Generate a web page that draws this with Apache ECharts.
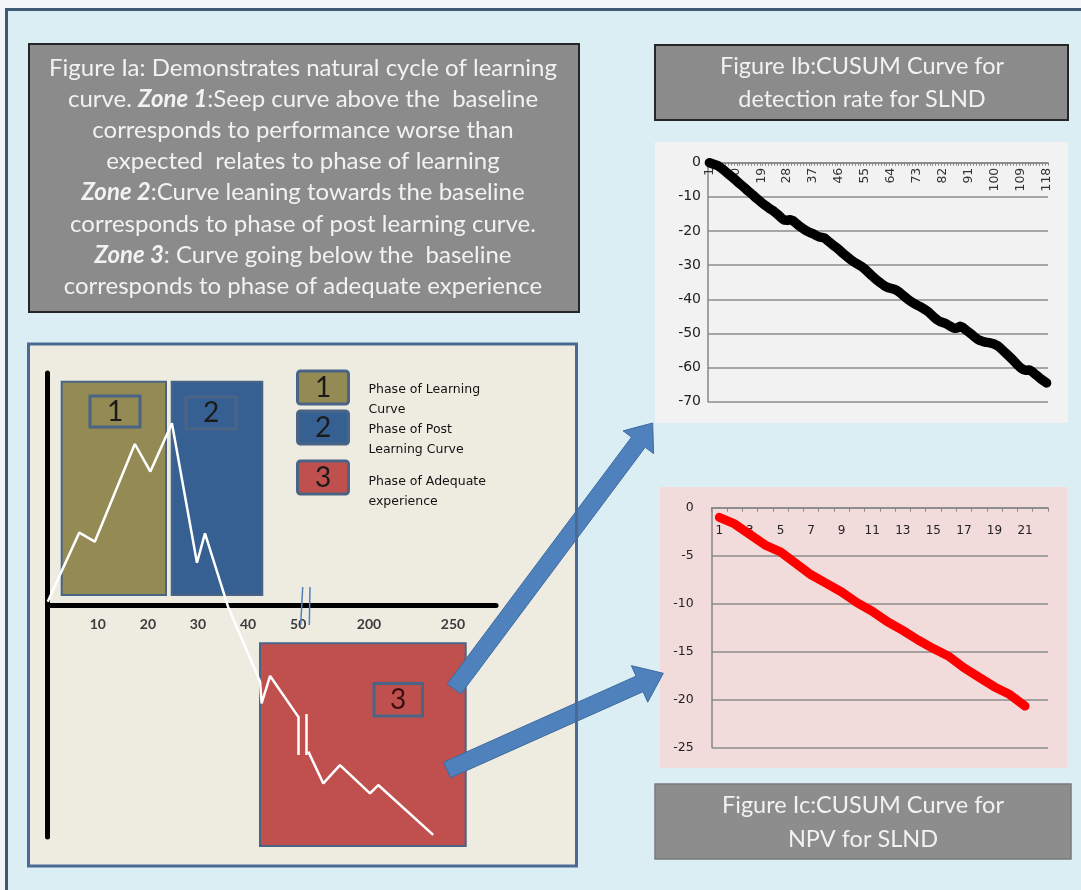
<!DOCTYPE html>
<html><head><meta charset="utf-8">
<script src="https://cdn.jsdelivr.net/npm/echarts@6/dist/echarts.min.js"></script>
<style>html,body{margin:0;padding:0;background:#f3f6f8;}#c{width:1081px;height:890px;}</style>
</head><body><div id="c"></div>
<script>
// ---- Figure Ib: CUSUM curve for detection rate (cases 1..118)
const catsB = ['1','2','3','4','5','6','7','8','9','10','11','12','13','14','15','16','17','18','19','20',
 '21','22','23','24','25','26','27','28','29','30','31','32','33','34','35','36','37','38','39','40',
 '41','42','43','44','45','46','47','48','49','50','51','52','53','54','55','56','57','58','59','60',
 '61','62','63','64','65','66','67','68','69','70','71','72','73','74','75','76','77','78','79','80',
 '81','82','83','84','85','86','87','88','89','90','91','92','93','94','95','96','97','98','99','100',
 '101','102','103','104','105','106','107','108','109','110','111','112','113','114','115','116','117','118'];
const valsB = [0,-0.3,-0.6,-0.9,-1.5,-2.2,-2.9,-3.6,-4.3,-5.0,
 -5.8,-6.5,-7.2,-8.0,-8.7,-9.4,-10.2,-10.9,-11.6,-12.3,
 -12.9,-13.5,-14.0,-14.7,-15.4,-16.2,-16.8,-16.9,-16.7,-17.0,
 -17.7,-18.4,-19.0,-19.6,-20.1,-20.5,-20.8,-21.3,-21.7,-21.9,
 -22.1,-22.8,-23.5,-24.2,-24.8,-25.5,-26.3,-27.0,-27.7,-28.4,
 -29.0,-29.5,-30.0,-30.5,-31.2,-32.0,-32.8,-33.6,-34.3,-35.0,
 -35.6,-36.2,-36.6,-36.8,-37.0,-37.4,-38.0,-38.7,-39.4,-40.1,
 -40.7,-41.2,-41.7,-42.1,-42.6,-43.1,-43.7,-44.5,-45.3,-46.0,
 -46.5,-46.8,-47.1,-47.6,-48.1,-48.5,-48.4,-47.9,-48.3,-49.0,
 -49.6,-50.3,-51.0,-51.7,-52.1,-52.4,-52.6,-52.7,-52.9,-53.2,
 -53.6,-54.3,-55.1,-55.9,-56.7,-57.5,-58.4,-59.3,-60.1,-60.6,
 -60.8,-60.7,-61.2,-61.9,-62.6,-63.3,-63.9,-64.5];
const ticksB = [0,-10,-20,-30,-40,-50,-60,-70];

// ---- Figure Ic: CUSUM curve for NPV (cases 1..21, axis to 22)
const catsC = ['1','2','3','4','5','6','7','8','9','10','11','12','13','14','15','16','17','18','19','20','21','22'];
const valsC = [-1.0,-1.7,-2.8,-3.9,-4.6,-5.8,-7.0,-7.9,-8.8,-9.9,-10.8,-11.9,-12.8,-13.8,-14.7,-15.5,-16.7,-17.7,-18.7,-19.5,-20.7];
const ticksC = [0,-5,-10,-15,-20,-25];

// ---- Figure Ia: schematic learning curve
const schemTicksA = [10,20,30,40,50];
const schemTicksB = [200,250];
const schemAx = [0,6.3,9.4,17.4,20.5,24.8,29.8,31.4,36.0,42.4,42.7,44.4,50.0];
const schemAy = [1.4,31.2,27.3,69.4,57.5,78.3,18.2,30.9,-0.7,-33.1,-42.4,-30.6,-48.1];
const schemBx = [163.9,172.8,182.7,200.6,205.5,238.2];
const schemBy = [-63.2,-76.9,-69.0,-81.2,-77.6,-99.1];

const legendItems = [
  {num:'1', lines:['Phase of Learning','Curve']},
  {num:'2', lines:['Phase of Post','Learning Curve']},
  {num:'3', lines:['Phase of Adequate','experience']}
];
const zoneColors = ['#948a54','#376092','#c0504d'];

const iaText = 'Figure Ia: Demonstrates natural cycle of learning\n' +
 'curve. {bi|Zone 1}:Seep curve above the  baseline\n' +
 'corresponds to performance worse than\n' +
 'expected  relates to phase of learning\n' +
 '{bi|Zone 2}:Curve leaning towards the baseline\n' +
 'corresponds to phase of post learning curve.\n' +
 '{bi|Zone 3}: Curve going below the  baseline\n' +
 'corresponds to phase of adequate experience';
const ibTitle = 'Figure Ib:CUSUM Curve for\ndetection rate for SLND';
const icTitle = 'Figure Ic:CUSUM Curve for\nNPV for SLND';

const chart = echarts.init(document.getElementById('c'), null, {renderer:'canvas'});

const FONT = 'Lato, "Open Sans", sans-serif';
const boxStroke = '#4a6486';

function arrow(T, P, hw, headHw, headLen){
  const dx=P[0]-T[0], dy=P[1]-T[1], L=Math.hypot(dx,dy);
  const u=[dx/L,dy/L], n=[-u[1],u[0]];
  const B=[P[0]-headLen*u[0], P[1]-headLen*u[1]];
  const pt=(o,s)=>[o[0]+s*n[0], o[1]+s*n[1]];
  return [pt(T,hw), pt(B,hw), pt(B,headHw), P, pt(B,-headHw), pt(B,-hw), pt(T,-hw)];
}

const graphics = [
  {type:'rect', z:0, shape:{x:6.5,y:9.5,width:1090,height:900}, style:{fill:'#dbeef4', stroke:'#3f5874', lineWidth:3}},
  // text boxes
  {type:'rect', z:1, shape:{x:29,y:44,width:550,height:268}, style:{fill:'#8b8b8b', stroke:'#262626', lineWidth:2}},
  {type:'text', z:3, x:303, y:177, style:{text:iaText, fill:'#f2f2f2', fontFamily:FONT, fontSize:24, lineHeight:31.2,
     align:'center', verticalAlign:'middle',
     rich:{bi:{fontStyle:'italic', fontWeight:'bold', fontFamily:FONT, fontSize:24, fill:'#f2f2f2', lineHeight:31.2}}}},
  {type:'rect', z:1, shape:{x:655,y:45,width:413,height:75}, style:{fill:'#8b8b8b', stroke:'#262626', lineWidth:2}},
  {type:'text', z:3, x:862, y:83, style:{text:ibTitle, fill:'#f2f2f2', fontFamily:FONT, fontSize:23.5, lineHeight:33, align:'center', verticalAlign:'middle'}},
  {type:'rect', z:1, shape:{x:655,y:784,width:416,height:75}, style:{fill:'#8d8d8d', stroke:'#7a7a7a', lineWidth:1.5}},
  {type:'text', z:3, x:863, y:822, style:{text:icTitle, fill:'#f2f2f2', fontFamily:FONT, fontSize:23.5, lineHeight:34, align:'center', verticalAlign:'middle'}},
  // chart backgrounds
  {type:'rect', z:1, shape:{x:655,y:142,width:413,height:281}, style:{fill:'#f2f2f2'}},
  {type:'rect', z:1, shape:{x:660,y:487,width:407,height:281}, style:{fill:'#f2dcdb'}},
  // Ia panel
  {type:'rect', z:1, shape:{x:28.5,y:344,width:548,height:522}, style:{fill:'#eeece1'}},
  // zones
  {type:'rect', z:2, shape:{x:61.7,y:381.7,width:104.3,height:213.3}, style:{fill:zoneColors[0], stroke:boxStroke, lineWidth:2}},
  {type:'rect', z:2, shape:{x:171.7,y:381.7,width:90.6,height:213.3}, style:{fill:zoneColors[1], stroke:boxStroke, lineWidth:2}},
  {type:'rect', z:2, shape:{x:260,y:643.3,width:205.7,height:202.7}, style:{fill:zoneColors[2], stroke:boxStroke, lineWidth:2}},
  // zone label boxes
  {type:'rect', z:3, shape:{x:90,y:396,width:50,height:31}, style:{fill:'none', stroke:boxStroke, lineWidth:3}},
  {type:'text', z:3, x:115, y:412, style:{text:'1', fill:'#1a1a1a', fontFamily:FONT, fontSize:28, align:'center', verticalAlign:'middle'}},
  {type:'rect', z:3, shape:{x:186,y:397,width:50,height:32}, style:{fill:'none', stroke:boxStroke, lineWidth:3}},
  {type:'text', z:3, x:211, y:413, style:{text:'2', fill:'#1a1a1a', fontFamily:FONT, fontSize:28, align:'center', verticalAlign:'middle'}},
  {type:'rect', z:3, shape:{x:374,y:683.5,width:48.5,height:32.5}, style:{fill:'none', stroke:boxStroke, lineWidth:3}},
  {type:'text', z:3, x:398, y:700, style:{text:'3', fill:'#3a1010', fontFamily:FONT, fontSize:28, align:'center', verticalAlign:'middle'}},
  // break marks
  {type:'line', z:11, shape:{x1:298.5,y1:716,x2:298.5,y2:755}, style:{stroke:'#ffffff', lineWidth:2.5}},
  {type:'line', z:11, shape:{x1:306.5,y1:714,x2:306.5,y2:755}, style:{stroke:'#ffffff', lineWidth:2.5}},
  {type:'line', z:11, shape:{x1:302.7,y1:587,x2:300.7,y2:625}, style:{stroke:'#4f81bd', lineWidth:1.5}},
  {type:'line', z:11, shape:{x1:310,y1:587,x2:309.3,y2:625}, style:{stroke:'#4f81bd', lineWidth:1.5}},
  // arrows
  {type:'polygon', z:12, shape:{points:arrow([454,689],[652.7,423],8.5,19,24)}, style:{fill:'#4f81bd', stroke:'#3d6a9e', lineWidth:1}},
  {type:'polygon', z:12, shape:{points:arrow([447,770],[663.3,673.3],8.5,20,26)}, style:{fill:'#4f81bd', stroke:'#3d6a9e', lineWidth:1}},
  // panel border
  {type:'rect', z:13, shape:{x:28.5,y:344,width:548,height:522}, style:{fill:'none', stroke:'#4a6a94', lineWidth:3}}
];
// legend
const legendY = [371,411,461];
const legendTextY = [[390,409.3],[429.3,449.3],[481.7,501.7]];
legendItems.forEach((it,i)=>{
  graphics.push({type:'rect', z:3, shape:{x:297.5,y:legendY[i],width:51,height:33,r:3}, style:{fill:zoneColors[i], stroke:boxStroke, lineWidth:3}});
  graphics.push({type:'text', z:4, x:323, y:legendY[i]+17, style:{text:it.num, fill:'#1a1a1a', fontFamily:FONT, fontSize:28, align:'center', verticalAlign:'middle'}});
  it.lines.forEach((ln,j)=>{
    graphics.push({type:'text', z:4, x:368.5, y:legendTextY[i][j], style:{text:ln, fill:'#111', fontFamily:'"DejaVu Sans", sans-serif', fontSize:12.5, align:'left', verticalAlign:'middle'}});
  });
});

const grayAxis = '#868686';
const option = {
  animation:false,
  graphic:{elements:graphics},
  grid:[
    {left:708, top:162.7, width:340, height:239},
    {left:711.7, top:507.7, width:336.3, height:239.6},
    {left:47.7, top:373, width:448.3, height:464}
  ],
  xAxis:[
    {type:'category', gridIndex:0, data:catsB, boundaryGap:true, z:5, position:'bottom', offset:-239,
     axisLine:{onZero:false, lineStyle:{color:grayAxis, width:1.5}},
     axisTick:{show:true, interval:0, length:3, lineStyle:{color:grayAxis}},
     axisLabel:{interval:8, rotate:90, fontSize:12.5, color:'#333', margin:5, fontFamily:'"DejaVu Sans", sans-serif'},
     splitLine:{show:false}},
    {type:'category', gridIndex:1, data:catsC, boundaryGap:true, z:5, position:'bottom', offset:-239.6,
     axisLine:{onZero:false, lineStyle:{color:grayAxis, width:1.5}},
     axisTick:{show:true, interval:0, length:4, lineStyle:{color:grayAxis}},
     axisLabel:{interval:1, fontSize:12, color:'#222', margin:17, fontFamily:'"DejaVu Sans", sans-serif'},
     splitLine:{show:false}},
    {type:'value', gridIndex:2, min:0, max:89.5, z:5, position:'bottom', offset:-232,
     axisLine:{onZero:false, lineStyle:{color:'#000', width:5}},
     axisTick:{show:false}, splitLine:{show:false},
     axisLabel:{customValues:schemTicksA, fontSize:14, fontWeight:'bold', color:'#3c3c3c', margin:12, fontFamily:FONT}},
    {type:'value', gridIndex:2, min:8.75, max:275.6, z:5, position:'bottom', offset:-232,
     axisLine:{show:false, onZero:false}, axisTick:{show:false}, splitLine:{show:false},
     axisLabel:{customValues:schemTicksB, fontSize:14, fontWeight:'bold', color:'#3c3c3c', margin:12, fontFamily:FONT}}
  ],
  yAxis:[
    {type:'value', gridIndex:0, min:ticksB[ticksB.length-1], max:ticksB[0], interval:10, z:5,
     axisLine:{show:true, lineStyle:{color:grayAxis, width:1.5}}, axisTick:{show:false},
     splitLine:{show:true, lineStyle:{color:'#8c8c8c', width:1.5}},
     axisLabel:{fontSize:14, color:'#222', margin:7, fontFamily:'"DejaVu Sans", sans-serif'}},
    {type:'value', gridIndex:1, min:ticksC[ticksC.length-1], max:ticksC[0], interval:5, z:5,
     axisLine:{show:true, lineStyle:{color:grayAxis, width:1.5}}, axisTick:{show:false},
     splitLine:{show:true, lineStyle:{color:'#8c8c8c', width:1.5}},
     axisLabel:{fontSize:12.5, color:'#222', margin:18, fontFamily:'"DejaVu Sans", sans-serif'}},
    {type:'value', gridIndex:2, min:-100, max:100, z:5,
     axisLine:{show:true, onZero:false, lineStyle:{color:'#000', width:5}}, axisTick:{show:false},
     splitLine:{show:false}, axisLabel:{show:false}}
  ],
  series:[
    {type:'line', xAxisIndex:0, yAxisIndex:0, data:valsB, symbol:'none', z:10,
     lineStyle:{color:'#000', width:9.5, cap:'round', join:'round'}},
    {type:'line', xAxisIndex:1, yAxisIndex:1, data:valsC, symbol:'none', z:10,
     lineStyle:{color:'#ff0000', width:9, cap:'round', join:'round'}},
    {type:'line', xAxisIndex:2, yAxisIndex:2, data:schemAx.map((x,i)=>[x,schemAy[i]]), symbol:'none', z:10,
     lineStyle:{color:'#ffffff', width:2.5}},
    {type:'line', xAxisIndex:3, yAxisIndex:2, data:schemBx.map((x,i)=>[x,schemBy[i]]), symbol:'none', z:10,
     lineStyle:{color:'#ffffff', width:2.5}}
  ]
};
chart.setOption(option);
</script></body></html>
